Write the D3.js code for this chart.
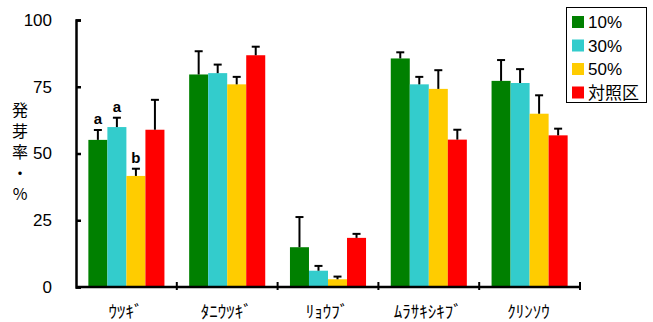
<!DOCTYPE html>
<html><head><meta charset="utf-8">
<script src="https://cdn.jsdelivr.net/npm/d3@7"></script>
<style>body{margin:0;background:#fff}svg{display:block}</style>
</head><body>
<svg id="c" width="653" height="322"></svg>
<script>
const categories = ["ｳﾂｷﾞ","ﾀﾆｳﾂｷﾞ","ﾘｮｳﾌﾞ","ﾑﾗｻｷｼｷﾌﾞ","ｸﾘﾝｿｳ"];
const seriesNames = ["10%","30%","50%","対照区"];
const seriesColors = ["#008000","#33CCCC","#FFCC00","#FF0000"];
const val10 = [55.1, 79.6, 14.9, 85.6, 77.2];
const val30 = [59.9, 80.1, 6.1, 75.9, 76.4];
const val50 = [41.6, 75.9, 2.9, 74.2, 64.9];
const valCtl = [58.9, 86.8, 18.4, 55.2, 56.8];
const err10 = [3.7, 8.7, 11.3, 2.3, 7.8];
const err30 = [3.5, 3.2, 1.8, 2.8, 5.2];
const err50 = [2.7, 2.8, 1.0, 7.0, 6.9];
const errCtl = [11.2, 3.2, 1.5, 3.7, 2.5];
const letters = [["a","a","b",""],["","","",""],["","","",""],["","","",""],["","","",""]];
const yTicks = [0,25,50,75,100];
const yLabel = "発芽率・%";

const values = [val10,val30,val50,valCtl];
const errs = [err10,err30,err50,errCtl];

const svg = d3.select("#c");
const x0 = 76, x1 = 580, yTop = 20, yBot = 287;
const x = d3.scaleBand().domain(categories).range([x0,x1]).paddingInner(0).paddingOuter(0);
const xs = d3.scaleBand().domain(seriesNames).range([0,x.bandwidth()]).paddingInner(0).paddingOuter(0.65);
const y = d3.scaleLinear().domain([0,100]).range([yBot,yTop]);

const g = svg.append("g");
categories.forEach((c,i)=>{
  seriesNames.forEach((s,j)=>{
    const v = values[j][i], e = errs[j][i];
    const bx = x(c)+xs(s);
    g.append("rect").attr("x",bx).attr("y",y(v)).attr("width",xs.bandwidth()).attr("height",y(0)-y(v)).attr("fill",seriesColors[j]);
    const cx = bx + xs.bandwidth()/2;
    g.append("line").attr("x1",cx).attr("x2",cx).attr("y1",y(v)).attr("y2",y(v+e)).attr("stroke","#000").attr("stroke-width",2);
    g.append("line").attr("x1",cx-4).attr("x2",cx+4).attr("y1",y(v+e)).attr("y2",y(v+e)).attr("stroke","#000").attr("stroke-width",2);
    const L = letters[i][j];
    if (L) g.append("text").attr("x",cx).attr("y",y(v+e)-6).attr("text-anchor","middle")
      .attr("font-family","Liberation Sans, Arial, sans-serif").attr("font-weight","bold").attr("font-size",15).text(L);
  });
});

// y axis
const ya = svg.append("g").attr("transform",`translate(${x0},0)`)
  .call(d3.axisLeft(y).tickValues(yTicks).tickSize(-5).tickPadding(24).tickFormat(d3.format("d")));
ya.select(".domain").attr("stroke","#000").attr("stroke-width",2.5);
ya.selectAll(".tick line").attr("stroke","#000").attr("stroke-width",2.5);
ya.selectAll("text").attr("font-family","Liberation Sans, Arial, sans-serif").attr("font-size",17).attr("fill","#000");

// x axis
svg.append("line").attr("x1",x0).attr("x2",x1).attr("y1",yBot).attr("y2",yBot).attr("stroke","#000").attr("stroke-width",2.5);
categories.map(c=>x(c)+x.bandwidth()).forEach(b=>{
  svg.append("line").attr("x1",b).attr("x2",b).attr("y1",yBot-5).attr("y2",yBot+3).attr("stroke","#000").attr("stroke-width",2);
});
categories.forEach(c=>{
  svg.append("text").attr("x",x(c)+x.bandwidth()/2-1).attr("y",318).attr("text-anchor","middle")
    .attr("font-family","Noto Sans CJK JP, sans-serif").attr("font-size",17).attr("fill","#000").text(c);
});

// y label (vertical, single text)
svg.append("text").attr("x",20).attr("y",102)
  .style("writing-mode","vertical-rl").style("text-orientation","upright")
  .style("letter-spacing","5px")
  .attr("font-family","Noto Sans CJK JP, sans-serif").attr("font-size",16).attr("fill","#000").text(yLabel);

// legend
const lg = svg.append("g");
lg.append("rect").attr("x",566.5).attr("y",7.5).attr("width",80).attr("height",95).attr("fill","#fff").attr("stroke","#000").attr("stroke-width",1);
seriesNames.forEach((s,j)=>{
  const cy = 22 + j*23.5;
  lg.append("rect").attr("x",572).attr("y",cy-6).attr("width",12).attr("height",12).attr("fill",seriesColors[j]);
  lg.append("text").attr("x",588).attr("y",cy+6).attr("font-family", j===3 ? "Noto Sans CJK JP, sans-serif" : "Liberation Sans, Arial, sans-serif")
    .attr("font-size",17).attr("fill","#000").text(s);
});
</script>
</body></html>
